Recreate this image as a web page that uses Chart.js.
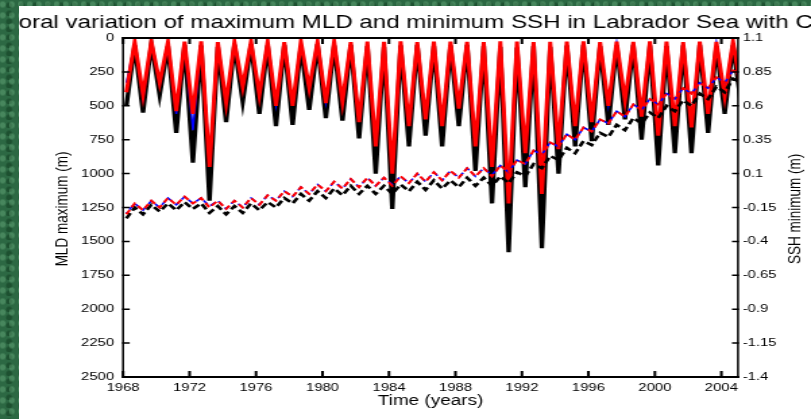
<!DOCTYPE html>
<html lang="en">
<head>
<meta charset="UTF-8">
<title>Maximum MLD and minimum SSH in Labrador Sea</title>
<style>
    html, body {
        margin: 0;
        padding: 0;
        width: 811px;
        height: 419px;
        overflow: hidden;
    }
    body {
        background-color: #2c6843;
        background-image:
            radial-gradient(circle at 30% 40%, rgba(120, 190, 140, 0.35) 0 2px, transparent 4px),
            radial-gradient(circle at 70% 70%, rgba(0, 35, 12, 0.35) 0 2px, transparent 4px);
        background-size: 9px 11px, 13px 8px;
    }
    .panel {
        position: absolute;
        left: 19px;
        top: 6px;
        width: 792px;
        height: 413px;
        background: #fff;
        overflow: hidden;
    }
    /* the original figure was stretched sideways on its slide */
    .stretch {
        position: absolute;
        left: -19px;
        top: -6px;
        width: 601px;
        height: 419px;
        transform: scaleX(1.3494);
        transform-origin: 0 0;
    }
</style>
<script src="https://cdn.jsdelivr.net/npm/chart.js"></script>
</head>
<body>
<div class="panel"><div class="stretch"><canvas id="myChart" width="601" height="419"></canvas></div></div>
<script>
    // winter (deepest) values sit at year + 0.2, summer (shallowest) at year + 0.7
    const winterYears = [1968, 1969, 1970, 1971, 1972, 1973, 1974, 1975, 1976, 1977,
        1978, 1979, 1980, 1981, 1982, 1983, 1984, 1985, 1986, 1987,
        1988, 1989, 1990, 1991, 1992, 1993, 1994, 1995, 1996, 1997,
        1998, 1999, 2000, 2001, 2002, 2003, 2004, 2005];
    const summerYears = winterYears.slice(0, 37);

    // MLD maximum (m)
    const mldBlackWinter = [500, 550, 420, 700, 920, 1200, 620, 470, 560, 650,
        640, 530, 590, 610, 740, 1000, 1260, 800, 720, 800,
        650, 980, 1220, 1580, 1100, 1550, 1000, 800, 760, 640,
        600, 750, 940, 850, 850, 700, 560, 500];
    const mldBlackSummer = [55, 45, 60, 50, 55, 65, 50, 45, 55, 50,
        60, 45, 55, 50, 60, 65, 55, 50, 60, 55,
        50, 60, 65, 70, 60, 65, 55, 50, 60, 55,
        50, 55, 60, 55, 50, 60, 55];
    const mldBlueWinter = [330, 440, 340, 560, 680, 900, 470, 370, 430, 490,
        500, 380, 470, 480, 600, 780, 980, 640, 590, 640,
        510, 780, 930, 1200, 830, 1120, 800, 640, 610, 490,
        470, 570, 700, 640, 650, 550, 440, 400];
    const mldBlueSummer = [40, 38, 42, 40, 36, 42, 40, 38, 40, 42,
        38, 40, 36, 42, 40, 38, 40, 42, 38, 40,
        36, 42, 40, 38, 40, 42, 38, 40, 36, 42,
        40, 38, 40, 42, 38, 40, 36];
    const mldRedWinter = [400, 420, 330, 540, 560, 950, 480, 360, 420, 500,
        500, 370, 480, 470, 620, 800, 1000, 650, 600, 650,
        520, 800, 950, 1220, 850, 1150, 820, 650, 620, 500,
        460, 580, 720, 650, 660, 560, 430, 400];
    const mldRedSummer = [28, 25, 30, 27, 25, 30, 28, 25, 27, 30,
        26, 28, 25, 30, 27, 28, 25, 30, 27, 26,
        28, 30, 25, 27, 30, 28, 26, 25, 30, 27,
        28, 25, 27, 30, 26, 28, 25];

    // SSH minimum (m)
    const sshBlackWinter = [-0.23, -0.20, -0.18, -0.17, -0.16, -0.19, -0.20, -0.19, -0.17, -0.15,
        -0.12, -0.10, -0.08, -0.06, -0.05, -0.05, -0.05, -0.03, -0.02, -0.01,
        0.00, 0.01, 0.01, 0.03, 0.08, 0.14, 0.20, 0.25, 0.31, 0.37,
        0.42, 0.47, 0.51, 0.56, 0.60, 0.65, 0.70, 0.77];
    const sshBlackSummer = [-0.15, -0.13, -0.12, -0.11, -0.12, -0.14, -0.14, -0.12, -0.11, -0.08,
        -0.05, -0.03, -0.01, 0.01, 0.01, 0.01, 0.02, 0.04, 0.05, 0.05,
        0.07, 0.07, 0.08, 0.11, 0.17, 0.23, 0.29, 0.34, 0.40, 0.46,
        0.51, 0.55, 0.60, 0.64, 0.69, 0.74, 0.80];
    const sshBlueWinter = [-0.19, -0.17, -0.15, -0.13, -0.12, -0.14, -0.16, -0.15, -0.13, -0.10,
        -0.07, -0.05, -0.03, -0.01, 0.00, 0.01, 0.02, 0.03, 0.04, 0.05,
        0.07, 0.08, 0.09, 0.11, 0.17, 0.24, 0.30, 0.35, 0.41, 0.47,
        0.52, 0.57, 0.61, 0.65, 0.69, 0.73, 0.77, 0.83];
    const sshBlueSummer = [-0.12, -0.10, -0.08, -0.07, -0.08, -0.10, -0.10, -0.08, -0.06, -0.03,
        0.00, 0.02, 0.04, 0.06, 0.07, 0.07, 0.08, 0.10, 0.11, 0.12,
        0.14, 0.14, 0.16, 0.20, 0.27, 0.33, 0.39, 0.44, 0.50, 0.56,
        0.61, 0.65, 0.69, 0.73, 0.77, 0.81, 0.86];
    const sshRedWinter = [-0.20, -0.17, -0.15, -0.13, -0.12, -0.15, -0.16, -0.15, -0.13, -0.10,
        -0.07, -0.05, -0.03, -0.01, 0.00, 0.01, 0.01, 0.03, 0.04, 0.05,
        0.07, 0.08, 0.08, 0.11, 0.17, 0.24, 0.30, 0.35, 0.41, 0.47,
        0.52, 0.57, 0.61, 0.65, 0.69, 0.73, 0.77, 0.83];
    const sshRedSummer = [-0.12, -0.10, -0.08, -0.07, -0.08, -0.10, -0.10, -0.08, -0.06, -0.03,
        0.00, 0.02, 0.04, 0.06, 0.07, 0.07, 0.08, 0.10, 0.11, 0.12,
        0.14, 0.14, 0.16, 0.20, 0.27, 0.33, 0.39, 0.44, 0.50, 0.56,
        0.61, 0.65, 0.69, 0.73, 0.77, 0.81, 0.86];

    // tick labels
    const yearTicks = [1968, 1972, 1976, 1980, 1984, 1988, 1992, 1996, 2000, 2004];
    const mldTicks = [0, 250, 500, 750, 1000, 1250, 1500, 1750, 2000, 2250, 2500];
    const sshTicks = [-1.4, -1.15, -0.9, -0.65, -0.4, -0.15, 0.1, 0.35, 0.6, 0.85, 1.1];

    const titleText = 'Temporal variation of maximum MLD and minimum SSH in Labrador Sea with C';
    const FONT = "'Liberation Sans', Arial, sans-serif";

    function series(winter, summer) {
        const pts = [];
        winterYears.forEach((yr, i) => {
            pts.push({ x: yr + 0.2, y: winter[i] });
            if (i < summer.length) pts.push({ x: summerYears[i] + 0.7, y: summer[i] });
        });
        return pts;
    }

    const frame = {
        id: 'frame',
        afterDatasetsDraw(chart) {
            const { ctx, chartArea: a, scales } = chart;
            ctx.save();
            ctx.strokeStyle = '#000';
            ctx.lineCap = 'square';
            ctx.lineWidth = 2;
            ctx.beginPath();
            ctx.moveTo(a.left, a.top); ctx.lineTo(a.right, a.top);
            ctx.moveTo(a.left, a.bottom); ctx.lineTo(a.right, a.bottom);
            yearTicks.forEach(v => {
                const px = scales.x.getPixelForValue(v);
                ctx.moveTo(px, a.bottom); ctx.lineTo(px, a.bottom - 5);
                ctx.moveTo(px, a.top); ctx.lineTo(px, a.top + 5);
            });
            ctx.stroke();
            ctx.lineWidth = 1.5;
            ctx.beginPath();
            ctx.moveTo(a.left, a.top); ctx.lineTo(a.left, a.bottom);
            ctx.moveTo(a.right, a.top); ctx.lineTo(a.right, a.bottom);
            ctx.stroke();
            ctx.beginPath();
            mldTicks.forEach(v => {
                const py = scales.y.getPixelForValue(v);
                ctx.moveTo(a.left, py); ctx.lineTo(a.left + 4.2, py);
            });
            sshTicks.forEach(v => {
                const py = scales.y2.getPixelForValue(v);
                ctx.moveTo(a.right, py); ctx.lineTo(a.right - 3.7, py);
            });
            ctx.stroke();
            ctx.restore();
        },
        afterDraw(chart) {
            const { ctx, chartArea: a } = chart;
            ctx.save();
            ctx.fillStyle = '#000';
            ctx.font = '17.9px ' + FONT;
            ctx.textAlign = 'left';
            ctx.textBaseline = 'alphabetic';
            ctx.fillText(titleText, -30, 28.3);

            ctx.font = '14px ' + FONT;
            ctx.textAlign = 'center';
            ctx.textBaseline = 'middle';
            ctx.fillText('Time (years)', (a.left + a.right) / 2, 401);

            ctx.font = '13.5px ' + FONT;
            ctx.translate(46.7, 209);
            ctx.rotate(-Math.PI / 2);
            ctx.fillText('MLD maximum (m)', 0, 0);
            ctx.restore();

            ctx.save();
            ctx.fillStyle = '#000';
            ctx.font = '13.5px ' + FONT;
            ctx.textAlign = 'center';
            ctx.textBaseline = 'middle';
            ctx.translate(589, 209);
            ctx.rotate(-Math.PI / 2);
            ctx.fillText('SSH minimum (m)', 0, 0);
            ctx.restore();
        }
    };

    const tickFont = { family: FONT, size: 11 };

    new Chart(document.getElementById('myChart'), {
        type: 'line',
        data: {
            datasets: [
                { label: 'SSH red', data: series(sshRedWinter, sshRedSummer), yAxisID: 'y2',
                  borderColor: '#ff0000', borderWidth: 2, borderDash: [5, 3], order: 1 },
                { label: 'SSH blue', data: series(sshBlueWinter, sshBlueSummer), yAxisID: 'y2',
                  borderColor: '#0000ff', borderWidth: 1.6, borderDash: [5, 3], borderDashOffset: 4, order: 2 },
                { label: 'SSH black', data: series(sshBlackWinter, sshBlackSummer), yAxisID: 'y2',
                  borderColor: '#000000', borderWidth: 2.6, borderDash: [6, 3], order: 3 },
                { label: 'MLD red', data: series(mldRedWinter, mldRedSummer), yAxisID: 'y',
                  borderColor: '#ff0000', borderWidth: 3, order: 4 },
                { label: 'MLD blue', data: series(mldBlueWinter, mldBlueSummer), yAxisID: 'y',
                  borderColor: '#0000ff', borderWidth: 1.5, order: 5 },
                { label: 'MLD black', data: series(mldBlackWinter, mldBlackSummer), yAxisID: 'y',
                  borderColor: '#000000', borderWidth: 3.3, order: 6 }
            ]
        },
        options: {
            responsive: false,
            animation: false,
            devicePixelRatio: 1,
            layout: { padding: { top: 38, left: 0, right: 0, bottom: 0 } },
            elements: {
                point: { radius: 0 },
                line: { tension: 0, borderJoinStyle: 'miter', borderCapStyle: 'butt' }
            },
            plugins: {
                legend: { display: false },
                tooltip: { enabled: false }
            },
            scales: {
                x: {
                    type: 'linear',
                    position: 'bottom',
                    min: 1968,
                    max: 2005,
                    grid: { display: false, drawTicks: false },
                    border: { display: false },
                    ticks: { font: tickFont, color: '#000', padding: 4, maxRotation: 0, autoSkip: false,
                             callback: v => String(v) },
                    afterBuildTicks: s => { s.ticks = yearTicks.map(v => ({ value: v })); },
                    afterFit: s => { s.height = 42; }
                },
                y: {
                    type: 'linear',
                    position: 'left',
                    reverse: true,
                    min: 0,
                    max: 2500,
                    grid: { display: false, drawTicks: false },
                    border: { display: false },
                    ticks: { font: tickFont, color: '#000', padding: 6.7, callback: v => String(v) },
                    afterBuildTicks: s => { s.ticks = mldTicks.map(v => ({ value: v })); },
                    afterFit: s => { s.width = 91.2; }
                },
                y2: {
                    type: 'linear',
                    position: 'right',
                    min: -1.4,
                    max: 1.1,
                    grid: { display: false, drawTicks: false },
                    border: { display: false },
                    ticks: { font: tickFont, color: '#000', padding: 3.5, callback: v => String(v) },
                    afterBuildTicks: s => { s.ticks = sshTicks.map(v => ({ value: v })); },
                    afterFit: s => { s.width = 54.1; }
                }
            }
        },
        plugins: [frame]
    });
</script>
</body>
</html>
